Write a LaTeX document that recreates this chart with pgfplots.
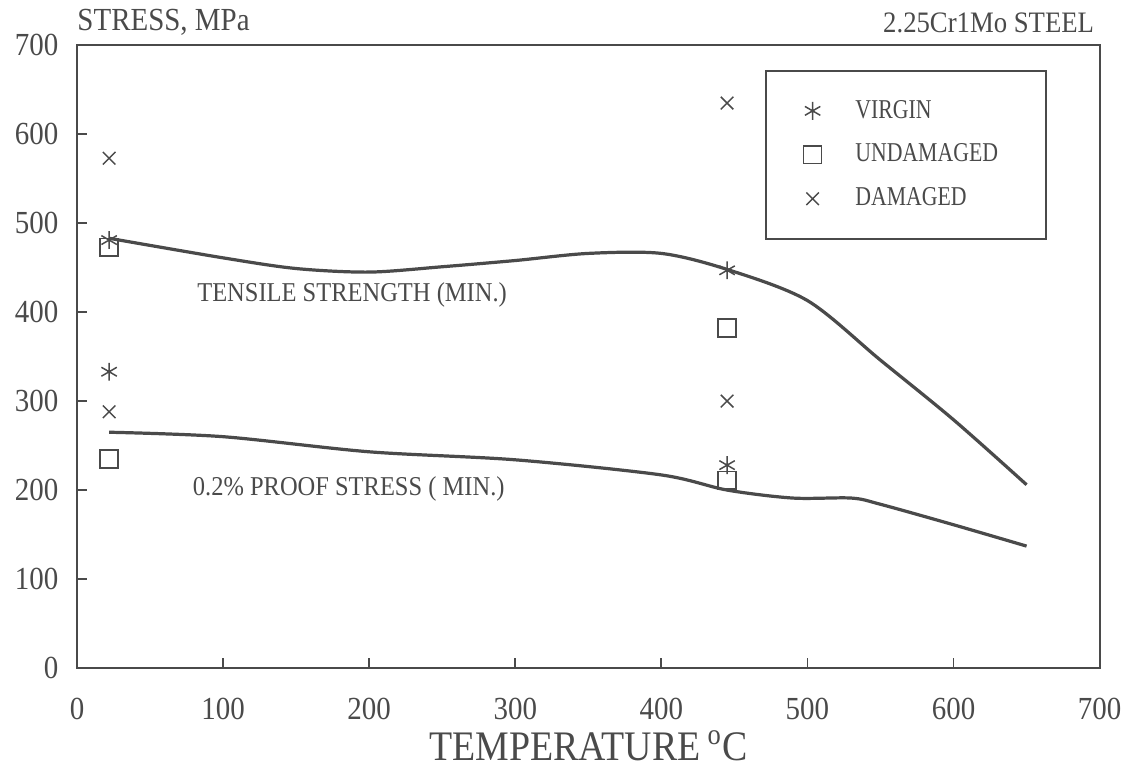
\documentclass[border=0pt]{standalone}
\usepackage{pgfplots}
\pgfplotsset{compat=1.18}
\usepackage{fontspec}
\setmainfont{Liberation Serif}[FakeStretch=0.9]
\newfontfamily\narrowf{Liberation Serif}[FakeStretch=0.8]

\definecolor{ink}{HTML}{4A4A4A}

\begin{document}
\begin{tikzpicture}[x=0.0142cm,y=0.0142cm]
% page = 1127 x 767 px of the reference, axis box south west at (77,668) px
\useasboundingbox (-77,-102) rectangle (1050,668);
\begin{axis}[
    at={(0,0)}, anchor=south west,
    scale only axis,
    width=14.527cm, height=8.847cm,
    xmin=0, xmax=700, ymin=0, ymax=700,
    xtick={0,100,...,700}, ytick={0,100,...,700},
    tick align=inside, xtick pos=bottom, ytick pos=left,
    major tick length=0.14cm,
    axis line style={ink, line width=0.9pt},
    every tick/.style={ink, line width=0.7pt},
    tick label style={font=\fontsize{13}{15}\selectfont, text=ink},
    /pgf/number format/assume math mode=true,
    xticklabel style={yshift=-0.3cm},
    yticklabel style={xshift=-0.14cm},
    xlabel={TEMPERATURE\,\textsuperscript{o}C},
    xlabel style={font=\fontsize{17}{19}\selectfont, text=ink, yshift=0.08cm},
    legend style={at={(0.6725,0.96)}, anchor=north west, draw=ink, line width=0.8pt,
        font=\narrowf\fontsize{11}{13}\selectfont, text=ink,
        inner xsep=0.54cm, inner ysep=0.34cm, row sep=0.175cm, column sep=0.41cm,
        nodes={text width=2.1cm}},
    legend cell align=left,
    legend image code/.code={\draw[#1, line width=0.6pt] plot coordinates {(0cm,0cm)};},
    clip=false,
]
% tensile strength (min.)
\addplot[ink, line width=1.3pt, smooth, forget plot] coordinates {
  (22,483) (100,461) (150,449) (200,445) (250,451) (300,458)
  (350,466) (400,466) (445,448) (500,413) (550,346) (600,279) (650,206)};
% 0.2% proof stress (min.)
\addplot[ink, line width=1.3pt, smooth, forget plot] coordinates {
  (22,265) (100,260) (200,243) (300,234) (400,217) (445,200)
  (490,191) (530,191) (550,184) (600,161) (650,137)};
% virgin
\addplot[only marks, mark=asterisk, mark size=3.6pt, ink, line width=0.6pt]
  coordinates {(22,481) (22,333) (445,447) (445,228)};
% undamaged
\addplot[only marks, mark=square, mark size=3.6pt, ink, line width=0.6pt]
  coordinates {(22,473) (22,235) (445,382) (445,211)};
% damaged
\addplot[only marks, mark=x, mark size=3.6pt, ink, line width=0.6pt]
  coordinates {(22,573) (22,288) (445,635) (445,300)};
\legend{VIRGIN, UNDAMAGED, DAMAGED}
\node[anchor=west, inner sep=0pt, font=\fontsize{11}{13}\selectfont, text=ink] at (axis cs:82,419) {TENSILE STRENGTH (MIN.)};
\node[anchor=west, inner sep=0pt, font=\fontsize{11}{13}\selectfont, text=ink] at (axis cs:79,201) {0.2\% PROOF STRESS ( MIN.)};
\node[anchor=base west, font=\fontsize{13}{15}\selectfont, text=ink, inner sep=0pt] at (rel axis cs:0,1.024) {STRESS, MPa};
\node[anchor=base east, font=\fontsize{12}{14}\selectfont, text=ink, inner sep=0pt] at (rel axis cs:0.995,1.021) {2.25Cr1Mo STEEL};
\end{axis}
\end{tikzpicture}
\end{document}
